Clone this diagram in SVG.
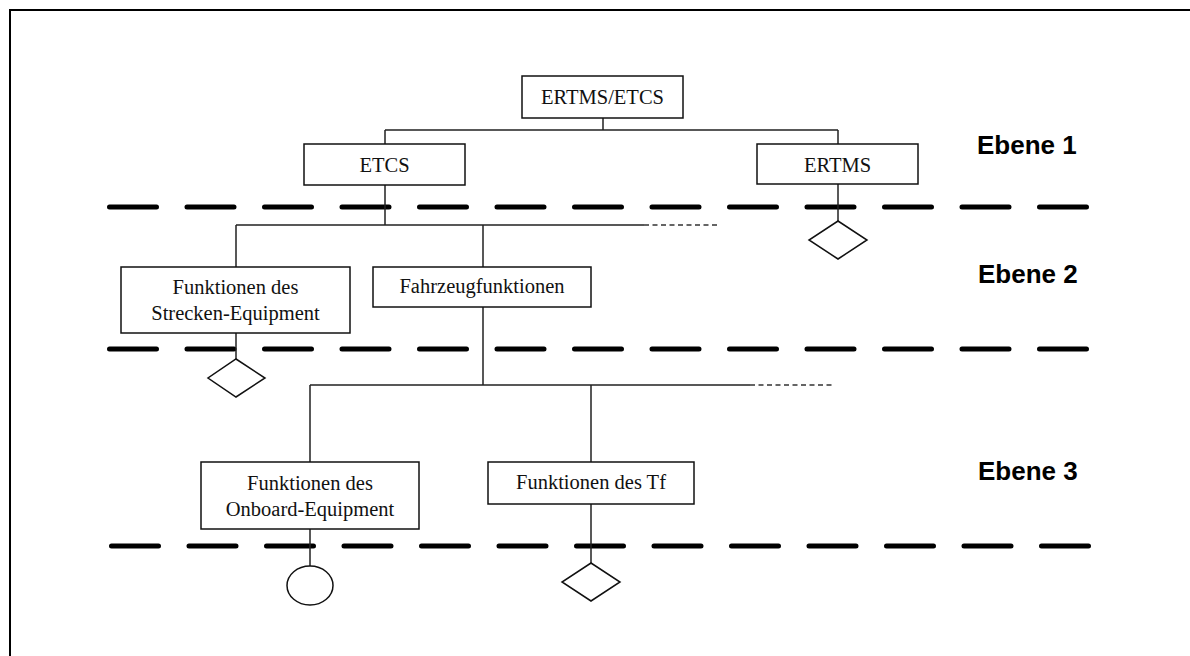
<svg xmlns="http://www.w3.org/2000/svg" width="1190" height="656" viewBox="0 0 1190 656">
  <style>
    .box { fill: #fff; stroke: #111; stroke-width: 1.5; }
    .lbl { font-family: "Liberation Serif", "Times New Roman", serif; font-size: 20.5px; fill: #111; text-anchor: middle; }
    .lvl { font-family: "Liberation Sans", Arial, sans-serif; font-size: 26px; font-weight: bold; fill: #000; }
    .sep { stroke: #000; stroke-width: 5; stroke-linecap: round; stroke-dasharray: 47 30.5; fill: none; }
    .ln { stroke: #222; stroke-width: 1.5; fill: none; }
    .dl { stroke: #333; stroke-width: 1.3; stroke-dasharray: 5 3.5; fill: none; }
    .sym { fill: #fff; stroke: #111; stroke-width: 1.5; }
  </style>

  <rect width="1190" height="656" fill="#fff"/>
  <!-- frame -->
  <path d="M10,656 V10 H1190" fill="none" stroke="#000" stroke-width="2"/>

  <!-- level separators -->
  <g id="separators">
    <line class="sep" x1="109.5" y1="207" x2="1090" y2="207"/>
    <line class="sep" x1="109.5" y1="349" x2="1090" y2="349"/>
    <line class="sep" x1="111.5" y1="546" x2="1090" y2="546"/>
  </g>

  <!-- level labels -->
  <g id="levels">
    <text class="lvl" x="977" y="154">Ebene 1</text>
    <text class="lvl" x="978" y="283">Ebene 2</text>
    <text class="lvl" x="978" y="480">Ebene 3</text>
  </g>

  <!-- connectors -->
  <g id="connectors">
    <path class="ln" d="M603,118 V130 M385,130 H838 M385,130 V144 M838,130 V144"/>
    <path class="ln" d="M385,185 V225 M236,225 H644 M236,225 V267 M483,225 V267"/>
    <path class="dl" d="M644,225 H720"/>
    <path class="ln" d="M838,184 V221"/>
    <path class="ln" d="M236,333 V359"/>
    <path class="ln" d="M483,307 V385 M310,385 H750 M310,385 V462 M591,385 V462"/>
    <path class="dl" d="M750,385 H833"/>
    <path class="ln" d="M310,529 V566"/>
    <path class="ln" d="M591,504 V563"/>
  </g>

  <g id="n-ertms-etcs">
    <rect class="box" x="522" y="76" width="161" height="42"/>
    <text class="lbl" x="602.5" y="104">ERTMS/ETCS</text>
  </g>

  <g id="n-etcs">
    <rect class="box" x="304" y="144" width="161" height="41"/>
    <text class="lbl" x="384.5" y="172">ETCS</text>
  </g>

  <g id="n-ertms">
    <rect class="box" x="757" y="144" width="161" height="40"/>
    <text class="lbl" x="837.5" y="172">ERTMS</text>
    <polygon class="sym" points="838,221 867,240 838,259 809,240"/>
  </g>

  <g id="n-strecke">
    <rect class="box" x="121" y="267" width="229" height="66"/>
    <text class="lbl" x="235.5" y="294">Funktionen des</text>
    <text class="lbl" x="235.5" y="320">Strecken-Equipment</text>
    <polygon class="sym" points="236,359 265,378 236,397 208,378"/>
  </g>

  <g id="n-fahrzeug">
    <rect class="box" x="373" y="267" width="218" height="40"/>
    <text class="lbl" x="482" y="293">Fahrzeugfunktionen</text>
  </g>

  <g id="n-onboard">
    <rect class="box" x="201" y="462" width="218" height="67"/>
    <text class="lbl" x="310" y="490">Funktionen des</text>
    <text class="lbl" x="310" y="516">Onboard-Equipment</text>
    <ellipse class="sym" cx="310" cy="585.5" rx="23" ry="19.5"/>
  </g>

  <g id="n-tf">
    <rect class="box" x="488" y="462" width="206" height="42"/>
    <text class="lbl" x="591" y="489">Funktionen des Tf</text>
    <polygon class="sym" points="591,563 620,582 591,601 562,582"/>
  </g>
</svg>
